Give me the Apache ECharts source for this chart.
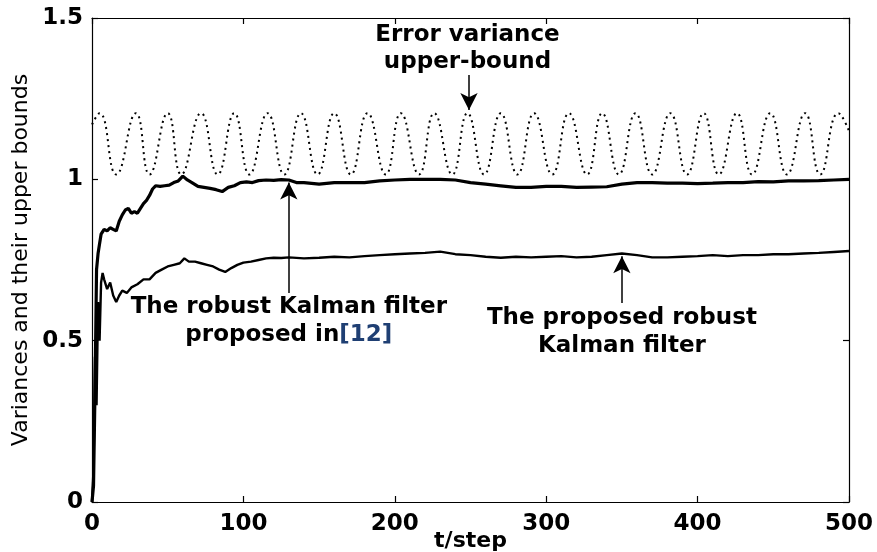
<!DOCTYPE html>
<html lang="en">
<head>
    <meta charset="UTF-8">
    <title>Variances and their upper bounds</title>
    <script src="https://cdn.jsdelivr.net/npm/echarts/dist/echarts.min.js"></script>
    <style>
        html, body { margin: 0; padding: 0; background: #fff; }
        #chart { width: 877px; height: 552px; }
    </style>
</head>
<body>
    <div id="chart"></div>
    <script>
        // dotted upper bound: peaks and troughs
        var boundT = [0, 5, 16, 29, 38, 50, 59, 72, 83, 94, 104, 116, 127, 138, 149, 160, 171, 182, 194, 204, 216, 226, 238, 248, 259, 270, 281, 292, 304, 315, 327, 337, 348, 359, 370, 382, 393, 404, 414, 426, 436, 448, 459, 471, 481, 493, 500]
        var boundV = [1.17, 1.205, 1.015, 1.205, 1.015, 1.205, 1.015, 1.205, 1.015, 1.205, 1.015, 1.205, 1.015, 1.205, 1.015, 1.205, 1.015, 1.205, 1.015, 1.205, 1.015, 1.205, 1.015, 1.205, 1.015, 1.205, 1.015, 1.205, 1.015, 1.205, 1.015, 1.205, 1.015, 1.205, 1.015, 1.205, 1.015, 1.205, 1.015, 1.205, 1.015, 1.205, 1.015, 1.205, 1.015, 1.205, 1.15]

        // robust Kalman filter proposed in [12] (upper solid line)
        var kf12T = [0, 1, 2, 3, 4, 5, 6, 8, 10, 12, 14, 16, 18, 20, 22, 24, 26, 28, 30, 32, 34, 36, 38, 40, 42, 45, 48, 51, 54, 57, 60, 63, 66, 70, 74, 78, 82, 86, 90, 94, 98, 102, 106, 110, 115, 120, 125, 130, 135, 140, 150, 160, 170, 180, 190, 200, 210, 220, 230, 240, 250, 260, 270, 280, 290, 300, 310, 320, 330, 340, 350, 360, 370, 380, 390, 400, 410, 420, 430, 440, 450, 460, 470, 480, 490, 500]
        var kf12V = [0, 0.05, 0.35, 0.72, 0.77, 0.80, 0.83, 0.845, 0.84, 0.85, 0.845, 0.84, 0.87, 0.89, 0.905, 0.91, 0.895, 0.90, 0.895, 0.91, 0.925, 0.935, 0.95, 0.97, 0.98, 0.978, 0.98, 0.982, 0.99, 0.995, 1.01, 0.998, 0.99, 0.978, 0.975, 0.972, 0.968, 0.962, 0.975, 0.98, 0.99, 0.992, 0.99, 0.996, 0.998, 0.997, 0.999, 0.998, 0.99, 0.99, 0.985, 0.99, 0.99, 0.99, 0.995, 0.998, 1.0, 1.0, 1.0, 0.998, 0.99, 0.985, 0.98, 0.975, 0.975, 0.978, 0.978, 0.975, 0.976, 0.977, 0.985, 0.99, 0.99, 0.988, 0.988, 0.987, 0.988, 0.99, 0.99, 0.993, 0.992, 0.995, 0.995, 0.996, 0.998, 1.0]

        // proposed robust Kalman filter (lower solid line)
        var propT = [0, 1, 2, 3, 4, 5, 6, 7, 8, 10, 12, 14, 16, 18, 20, 23, 26, 30, 34, 38, 42, 46, 50, 54, 58, 61, 64, 68, 72, 76, 80, 84, 88, 92, 96, 100, 105, 110, 115, 120, 125, 130, 140, 150, 160, 170, 180, 190, 200, 210, 220, 230, 240, 250, 260, 270, 280, 290, 300, 310, 320, 330, 340, 350, 360, 370, 380, 390, 400, 410, 420, 430, 440, 450, 460, 470, 480, 490, 500]
        var propV = [0, 0.1, 0.45, 0.30, 0.62, 0.5, 0.68, 0.71, 0.69, 0.66, 0.68, 0.64, 0.62, 0.64, 0.655, 0.648, 0.665, 0.675, 0.69, 0.69, 0.71, 0.72, 0.73, 0.735, 0.74, 0.755, 0.745, 0.745, 0.74, 0.735, 0.73, 0.72, 0.713, 0.725, 0.735, 0.742, 0.745, 0.75, 0.755, 0.757, 0.756, 0.758, 0.755, 0.757, 0.76, 0.758, 0.762, 0.765, 0.768, 0.77, 0.772, 0.776, 0.768, 0.765, 0.76, 0.757, 0.76, 0.758, 0.76, 0.762, 0.758, 0.76, 0.765, 0.77, 0.765, 0.758, 0.758, 0.76, 0.762, 0.765, 0.762, 0.765, 0.765, 0.768, 0.768, 0.77, 0.772, 0.775, 0.778]

        // arrows: [t, from, to]
        var arrows = [[249, 1.323, 1.215], [130, 0.648, 0.99], [350, 0.617, 0.762]]
        // annotation text lines: [t, v, text]
        var notes = [
            [248, 1.447, 'Error variance'],
            [248, 1.363, 'upper-bound'],
            [130, 0.604, 'The robust Kalman filter'],
            [130, 0.517, '{a|proposed in}{b|[12]}'],
            [350, 0.570, 'The proposed robust'],
            [350, 0.483, 'Kalman filter']
        ]

        function pairs(ts, vs) {
            return ts.map(function (t, i) { return [t, vs[i]] })
        }

        var font = 'DejaVu Sans'
        var chart = echarts.init(document.getElementById('chart'))

        var axisBase = {
            type: 'value',
            nameMoveOverlap: false,
            axisLine: { show: true, onZero: false, lineStyle: { color: '#000', width: 1.2 } },
            axisTick: { show: true, inside: true, length: 6, lineStyle: { color: '#000', width: 1.2 } },
            splitLine: { show: false }
        }

        var option = {
            animation: false,
            backgroundColor: '#fff',
            grid: { left: 92, right: 28, top: 18, bottom: 50, containLabel: false, outerBoundsMode: 'none' },
            xAxis: [
                Object.assign({}, axisBase, {
                    min: 0, max: 500, interval: 100, position: 'bottom',
                    name: 't/step', nameLocation: 'middle', nameGap: 28,
                    nameTextStyle: { fontFamily: font, fontWeight: 'bold', fontSize: 22, color: '#000' },
                    axisLabel: { margin: 11, fontFamily: font, fontWeight: 'bold', fontSize: 23, color: '#000' }
                }),
                Object.assign({}, axisBase, {
                    min: 0, max: 500, interval: 100, position: 'top', axisLabel: { show: false }
                })
            ],
            yAxis: [
                Object.assign({}, axisBase, {
                    min: 0, max: 1.5, interval: 0.5, position: 'left',
                    name: 'Variances and their upper bounds', nameLocation: 'middle', nameGap: 60,
                    nameTextStyle: { fontFamily: font, fontSize: 22, color: '#000' },
                    axisLabel: { margin: 9, fontFamily: font, fontWeight: 'bold', fontSize: 23, color: '#000' }
                }),
                Object.assign({}, axisBase, {
                    min: 0, max: 1.5, interval: 0.5, position: 'right', axisLabel: { show: false }
                })
            ],
            series: [
                {
                    name: 'bound', type: 'line', data: pairs(boundT, boundV),
                    smooth: true, showSymbol: false,
                    lineStyle: { color: '#000', width: 2, type: [2, 4] }
                },
                {
                    name: 'kf12', type: 'line', data: pairs(kf12T, kf12V),
                    showSymbol: false,
                    lineStyle: { color: '#000', width: 3.2 }
                },
                {
                    name: 'proposed', type: 'line', data: pairs(propT, propV),
                    showSymbol: false,
                    lineStyle: { color: '#000', width: 2.4 },
                    markLine: {
                        silent: true,
                        symbol: ['none', 'arrow'],
                        symbolSize: [13, 17],
                        label: { show: false },
                        lineStyle: { color: '#000', width: 1.5, type: 'solid' },
                        data: arrows.map(function (a) {
                            return [{ coord: [a[0], a[1]] }, { coord: [a[0], a[2]] }]
                        })
                    }
                }
            ]
        }
        chart.setOption(option)

        // annotation texts placed via the grid's own scales
        var graphics = notes.map(function (n) {
            var p = chart.convertToPixel({ gridIndex: 0 }, [n[0], n[1]])
            return {
                type: 'text', x: p[0], y: p[1], silent: true,
                style: {
                    text: n[2], fill: '#000',
                    font: 'bold 23px "' + font + '"',
                    align: 'center', verticalAlign: 'middle',
                    rich: {
                        a: { fontFamily: font, fontWeight: 'bold', fontSize: 23, fill: '#000', color: '#000' },
                        b: { fontFamily: font, fontWeight: 'bold', fontSize: 23, color: '#1f3f73', fill: '#1f3f73' }
                    }
                }
            }
        })
        chart.setOption({ graphic: graphics })
    </script>
</body>
</html>
